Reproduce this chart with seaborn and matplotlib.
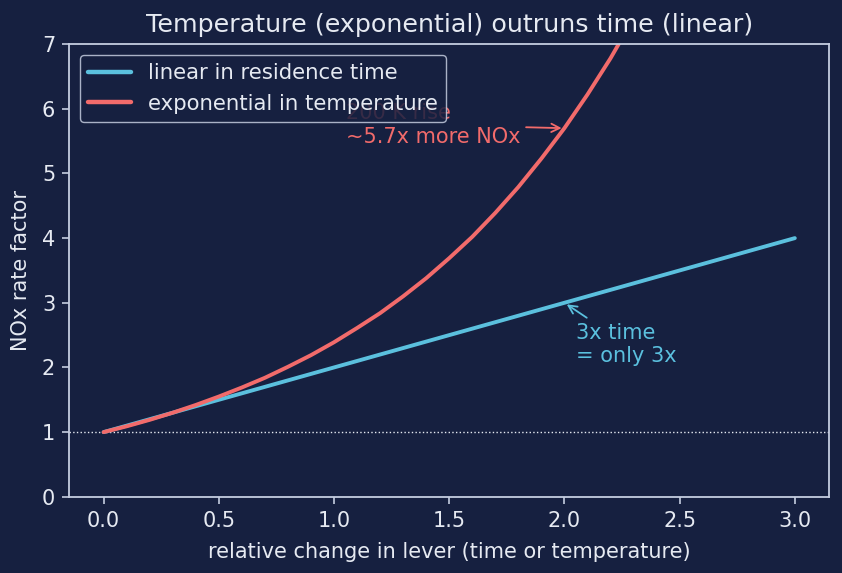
import numpy as np
import pandas as pd
import seaborn as sns
import matplotlib
matplotlib.use("Agg")
import matplotlib.pyplot as plt

# values
lever_lin = [0.0, 3.0]
rate_lin = [1.0, 4.0]

lever_exp = [0.0, 0.1, 0.2, 0.3, 0.4, 0.5, 0.6, 0.7, 0.8, 0.9, 1.0,
             1.1, 1.2, 1.3, 1.4, 1.5, 1.6, 1.7, 1.8, 1.9, 2.0,
             2.1, 2.2, 2.3, 2.4, 2.5, 2.6, 2.7, 2.8, 2.9, 3.0]
rate_exp = [1.00, 1.09, 1.19, 1.30, 1.42, 1.55, 1.69, 1.84, 2.01, 2.19, 2.39,
            2.61, 2.84, 3.10, 3.38, 3.69, 4.02, 4.39, 4.79, 5.23, 5.70,
            6.22, 6.78, 7.40, 8.07, 8.81, 9.61, 10.48, 11.44, 12.48, 13.61]

BG = "#162040"
FG = "#e6eaf2"
SPINE = "#c5cde0"
CYAN = "#5bc0de"
RED = "#f26b6b"
FS = 15

sns.set_theme(style="dark")
plt.rcParams['font.family'] = ['DejaVu Sans']

df_lin = pd.DataFrame({'x': lever_lin, 'y': rate_lin})
df_exp = pd.DataFrame({'x': lever_exp, 'y': rate_exp})

fig, ax = plt.subplots(figsize=(8.42, 5.73), dpi=100)
fig.patch.set_facecolor(BG)
ax.set_facecolor(BG)

sns.lineplot(data=df_lin, x='x', y='y', ax=ax, color=CYAN, linewidth=2.8,
             label='linear in residence time')
sns.lineplot(data=df_exp, x='x', y='y', ax=ax, color=RED, linewidth=2.8,
             label='exponential in temperature')

ax.axhline(1, color=FG, linestyle=':', linewidth=1, zorder=1)

ax.set_ylim(0, 7)
ax.set_xlim(-0.15, 3.15)

ax.annotate('200 K rise\n~5.7x more NOx', xy=(2.0, 5.7), xytext=(1.05, 5.75),
            color=RED, fontsize=FS, ha='left', va='center', zorder=1,
            arrowprops=dict(arrowstyle='->', color=RED, lw=1.3))
ax.annotate('3x time\n= only 3x', xy=(2.0, 3.0), xytext=(2.05, 2.36),
            color=CYAN, fontsize=FS, ha='left', va='center',
            arrowprops=dict(arrowstyle='->', color=CYAN, lw=1.3))

ax.set_title('Temperature (exponential) outruns time (linear)', color=FG,
             fontsize=18.3, pad=9)
ax.set_xlabel('relative change in lever (time or temperature)', color=FG,
              fontsize=FS, labelpad=8)
ax.set_ylabel('NOx rate factor', color=FG, fontsize=FS, labelpad=8)
ax.set_xticks([0.0, 0.5, 1.0, 1.5, 2.0, 2.5, 3.0])
ax.set_xticklabels(['0.0', '0.5', '1.0', '1.5', '2.0', '2.5', '3.0'])
ax.tick_params(colors=FG, labelsize=FS, length=5, width=1.2, pad=5,
               bottom=True, left=True)
ax.tick_params(axis='both', color=SPINE)
for s in ax.spines.values():
    s.set_color(SPINE)
    s.set_linewidth(1.3)
ax.grid(False)

leg = ax.legend(loc='upper left', fontsize=15.3, facecolor=BG, edgecolor=SPINE,
                framealpha=0.85, labelcolor=FG)
leg.set_zorder(5)
for line in leg.get_lines():
    line.set_linewidth(3.2)

fig.subplots_adjust(left=0.082, right=0.985, top=0.923, bottom=0.133)
plt.savefig('out.png', dpi=100, facecolor=BG)
